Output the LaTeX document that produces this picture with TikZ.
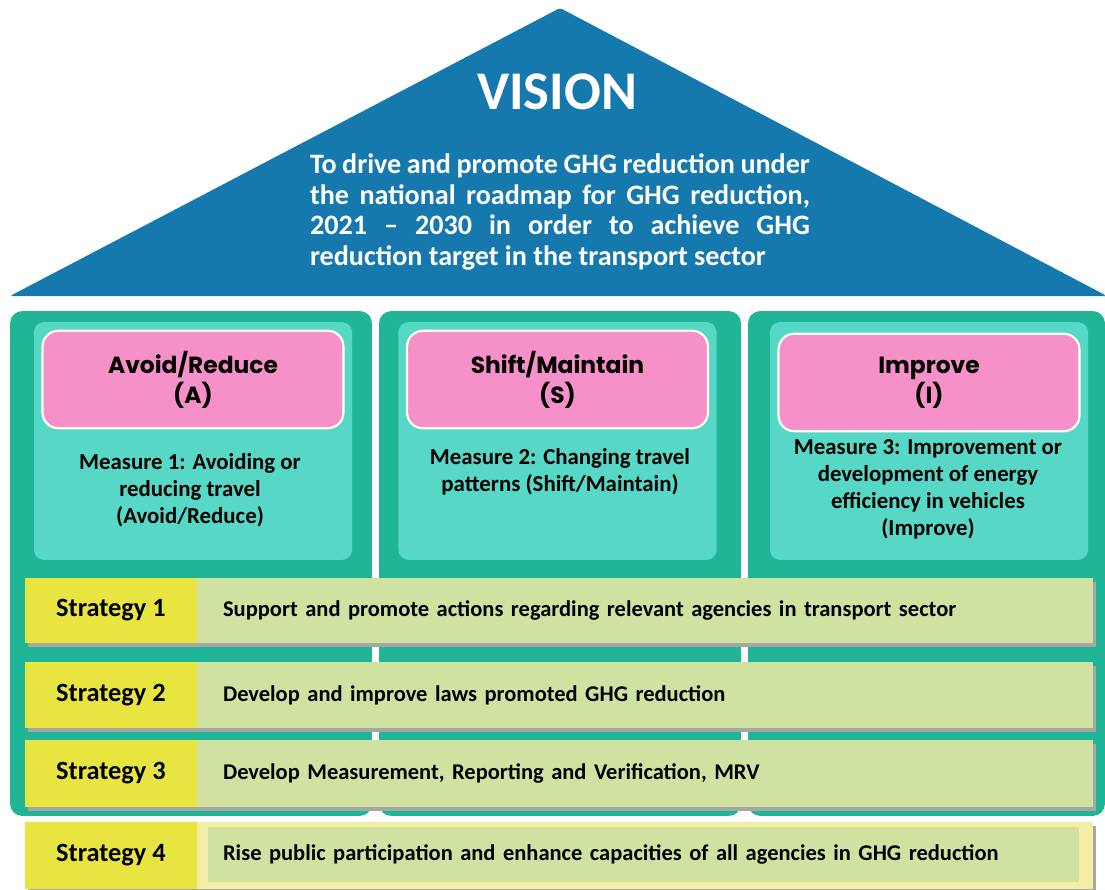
\documentclass[tikz,border=0pt]{standalone}
\usepackage{fontspec}
\setmainfont{Carlito}
\newfontfamily\headfont{Poppins}
\usetikzlibrary{positioning,shadows}
\definecolor{roofblue}{RGB}{22,121,174}
\definecolor{colteal}{RGB}{32,181,150}
\definecolor{panelteal}{RGB}{87,215,197}
\definecolor{pinkfill}{RGB}{246,144,200}
\definecolor{stratyellow}{RGB}{232,228,64}
\definecolor{stratgreen}{RGB}{208,226,161}
\definecolor{paleyellow}{RGB}{243,237,165}

\begin{document}
\begin{tikzpicture}[
  x=0.02cm, y=-0.02cm,
  font=\bfseries,
  pillar/.style={rounded corners=7pt, fill=colteal, minimum height=10.1cm},
  panel/.style={rounded corners=6pt, fill=panelteal, minimum width=6.37cm, minimum height=4.76cm},
  headbox/.style={rounded corners=9pt, fill=pinkfill, draw=white, line width=1.2pt,
                  minimum height=1.95cm, minimum width=6.02cm, align=center,
                  font=\headfont\bfseries\fontsize{13.3}{17}\selectfont},
  measure/.style={align=center, font=\bfseries\fontsize{13}{15.3}\selectfont},
  shade/.style={drop shadow={shadow xshift=1.5pt, shadow yshift=-2pt, fill=black!35, opacity=1}},
  stratlabel/.style={shade, fill=stratyellow, minimum width=3.44cm, inner sep=0pt,
                     font=\bfseries\fontsize{15}{17}\selectfont},
  stratbar/.style={fill=stratgreen, inner sep=0pt, inner xsep=0.52cm, text width=16.88cm, align=left,
                   font=\bfseries\fontsize{12.8}{15}\selectfont}
]
\useasboundingbox (0,0) rectangle (1105,889);

% Roof with the vision statement
\fill[roofblue, rounded corners=1pt] (10,296) -- (560,8) -- (1105,295) -- (1105,296) -- cycle;
\node[text=white, font=\bfseries\fontsize{31}{34}\selectfont] (vision) at (557,92) {VISION};
\node[text=white, text width=10cm, align=justify, inner sep=0pt,
      font=\bfseries\fontsize{16}{17.6}\selectfont] (visiontext) at (560,212)
  {To drive and promote GHG reduction under\linebreak
   the national roadmap for GHG reduction,\linebreak
   2021 -- 2030 in order to achieve GHG\linebreak
   reduction target in the transport sector};

% Three pillars
\node[pillar, minimum width=7.24cm] (colA) at (191,563.5) {};
\node[pillar, minimum width=7.24cm] (colS) at (560,563.5) {};
\node[pillar, minimum width=7.14cm] (colI) at (926.5,563.5) {};

\node[panel] (panelA) at (193,441) {};
\node[panel] (panelS) at (557.5,441) {};
\node[panel] (panelI) at (929,441) {};

\node[headbox] (headA) at (193,379.5) {Avoid/Reduce\\(A)};
\node[headbox] (headS) at (557.5,379.5) {Shift/Maintain\\(S)};
\node[headbox] (headI) at (929,382.5) {Improve\\(I)};

\node[measure] (measA) at (190,490)
  {Measure 1: Avoiding or\\ reducing travel\\ (Avoid/Reduce)};
\node[measure] (measS) at (560,471.5)
  {Measure 2: Changing travel\\ patterns (Shift/Maintain)};
\node[measure] (measI) at (928,489.5)
  {Measure 3: Improvement or\\ development of energy\\ efficiency in vehicles\\ (Improve)};

% Strategies across the pillars
\node[stratlabel, minimum height=1.3cm] (strat1) at (111,610.5) {Strategy 1};
\node[stratbar, shade, minimum height=1.3cm] (bar1) at (645,610.5)
  {Support and promote actions regarding relevant agencies in transport sector};

\node[stratlabel, minimum height=1.32cm] (strat2) at (111,695) {Strategy 2};
\node[stratbar, shade, minimum height=1.32cm] (bar2) at (645,695)
  {Develop and improve laws promoted GHG reduction};

\node[stratlabel, minimum height=1.34cm] (strat3) at (111,773.5) {Strategy 3};
\node[stratbar, shade, minimum height=1.34cm] (bar3) at (645,773.5)
  {Develop Measurement, Reporting and Verification, MRV};

% Strategy 4 sits below the pillars
\node[stratlabel, minimum height=1.34cm] (strat4) at (111,855.5) {Strategy 4};
\node[shade, fill=paleyellow, minimum width=17.92cm, minimum height=1.34cm] (frame4) at (645,855.5) {};
\node[stratbar, inner xsep=0.3cm, text width=16.82cm, minimum height=1.1cm] (bar4) at (643.5,854.5)
  {Rise public participation and enhance capacities of all agencies in GHG reduction};

\end{tikzpicture}
\end{document}
